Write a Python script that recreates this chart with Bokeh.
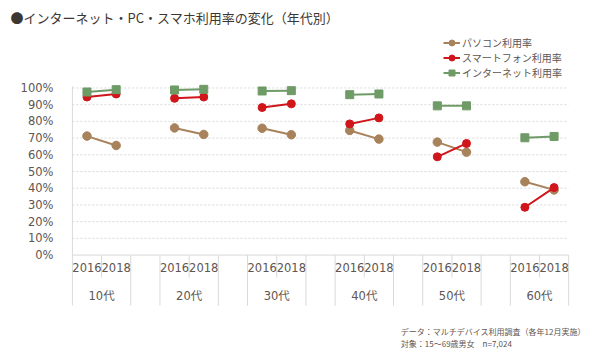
from bokeh.plotting import figure
from bokeh.models import FixedTicker, Legend, LegendItem, Range1d
from bokeh.core.properties import value
from bokeh.embed import file_html
from bokeh.resources import INLINE

# ---- data ----
ages = ["10代", "20代", "30代", "40代", "50代", "60代"]
years = ["2016", "2018"]
pc_2016 = [71.2, 76.1, 75.9, 74.6, 67.6, 43.9]
pc_2018 = [65.6, 72.2, 72.0, 69.4, 61.6, 39.0]
sp_2016 = [94.6, 93.8, 88.3, 78.5, 58.8, 28.6]
sp_2018 = [96.4, 94.6, 90.5, 82.1, 66.8, 40.4]
net_2016 = [97.6, 98.8, 98.2, 96.0, 89.3, 70.2]
net_2018 = [99.0, 99.2, 98.4, 96.4, 89.3, 71.0]
y_ticks = [0, 10, 20, 30, 40, 50, 60, 70, 80, 90, 100]
series_names = ["パソコン利用率", "スマートフォン利用率", "インターネット利用率"]
title_text = "●インターネット・PC・スマホ利用率の変化（年代別）"
note_lines = ["データ：マルチデバイス利用調査（各年12月実施）", "対象：15～69歳男女　n=7,024"]

# ---- layout helpers ----
SLOTS_PER_GROUP = 3
n_groups = len(ages)
n_slots = n_groups * SLOTS_PER_GROUP - 1
Y_AXIS_BOTTOM = -30.25      # bottom of the category rows
Y_AXIS_TOP = 101.0
LABEL_FONT = value("DejaVu Sans, Noto Sans CJK JP")
TEXT_COLOR = "#605550"
GRID_COLOR = "#d9d9d9"

p = figure(width=600, height=354, output_backend="svg", toolbar_location=None,
           x_range=Range1d(-0.03, 18.09), y_range=Range1d(-59.5, 133.8),
           x_axis_type=None, min_border_left=71, min_border_right=0,
           min_border_top=30, min_border_bottom=0)
p.outline_line_color = None
p.background_fill_color = "white"
p.border_fill_color = "white"

# y axis
ax = p.yaxis[0]
ax.ticker = FixedTicker(ticks=y_ticks)
ax.major_label_overrides = {t: f"{t}%" for t in y_ticks}
ax.axis_line_color = None
ax.major_tick_line_color = None
ax.minor_tick_line_color = None
ax.major_label_standoff = 12
ax.major_label_text_font = "DejaVu Sans"
ax.major_label_text_font_size = "11.5px"
ax.major_label_text_color = TEXT_COLOR
p.xgrid.visible = False
p.ygrid.visible = False

# axis line and grid lines
p.segment(x0=[0], y0=[Y_AXIS_BOTTOM], x1=[0], y1=[Y_AXIS_TOP], line_color=GRID_COLOR, line_width=1)
gt = y_ticks[1:]
p.segment(x0=[0] * len(gt), y0=gt, x1=[n_slots] * len(gt), y1=gt,
          line_color=GRID_COLOR, line_width=1, line_dash="2 2")
p.segment(x0=[0], y0=[y_ticks[0]], x1=[n_slots], y1=[y_ticks[0]], line_color=GRID_COLOR, line_width=1)

# category separators below the zero line
bx, by1 = [], []
for g in range(n_groups):
    base = g * SLOTS_PER_GROUP
    for k in range(len(years) + 1):
        xpos = base + k
        if xpos == 0 or xpos > n_slots:
            continue
        bx.append(xpos)
        by1.append(-13.4 if k == 1 else Y_AXIS_BOTTOM)
p.segment(x0=bx, y0=[0] * len(bx), x1=bx, y1=by1, line_color=GRID_COLOR, line_width=1)

# year and age labels
yx, yt = [], []
for g in range(n_groups):
    for k, yr in enumerate(years):
        yx.append(g * SLOTS_PER_GROUP + k + 0.5)
        yt.append(yr)
p.text(x=yx, y=[-7.5] * len(yx), text=yt, text_font=LABEL_FONT, text_font_size="11.5px",
       text_color=TEXT_COLOR, text_align="center", text_baseline="middle")
gx = [g * SLOTS_PER_GROUP + len(years) / 2 for g in range(n_groups)]
p.text(x=gx, y=[-24.5] * len(gx), text=ages, text_font=LABEL_FONT, text_font_size="11.5px",
       text_color=TEXT_COLOR, text_align="center", text_baseline="middle")

# series
def build(v16, v18):
    xs, ys, px, py = [], [], [], []
    for g in range(n_groups):
        x0 = g * SLOTS_PER_GROUP + 0.5
        xs.append([x0, x0 + 1])
        ys.append([v16[g], v18[g]])
        px += [x0, x0 + 1]
        py += [v16[g], v18[g]]
    return xs, ys, px, py

specs = [
    (pc_2016, pc_2018, "#a8825b", "circle", 8.5),
    (sp_2016, sp_2018, "#d0161b", "circle", 8),
    (net_2016, net_2018, "#6f9b67", "square", 8),
]
items = []
for (v16, v18, col, mk, sz), name in zip(specs, series_names):
    xs, ys, px, py = build(v16, v18)
    r1 = p.multi_line(xs=xs, ys=ys, line_color=col, line_width=2)
    r2 = p.scatter(x=px, y=py, marker=mk, size=sz, fill_color=col, line_color=col)
    items.append(LegendItem(label=name, renderers=[r1, r2]))

legend = Legend(items=items, location=(372, 273.7), padding=0, margin=0, spacing=0,
                label_height=15, glyph_height=15, glyph_width=17, label_standoff=2,
                border_line_color=None, background_fill_alpha=0,
                label_text_font="Noto Sans CJK JP", label_text_font_size="10px",
                label_text_color=TEXT_COLOR)
p.add_layout(legend, "center")

# title
p.title.text = title_text
p.title.align = "left"
p.title.offset = -61
p.title.text_font = "Noto Sans CJK JP"
p.title.text_font_size = "13px"
p.title.text_font_style = "normal"
p.title.text_color = "#3d3632"

# footnote (placed in data space below the category rows)
note_x = 11.25
note_y = [-45.6, -52.9]
p.text(x=[note_x] * len(note_lines), y=note_y, text=note_lines, text_font=value("Noto Sans CJK JP"),
       text_font_size="8px", text_color=TEXT_COLOR, text_align="left", text_baseline="middle")

open("out.html", "w").write(file_html(p, INLINE))
